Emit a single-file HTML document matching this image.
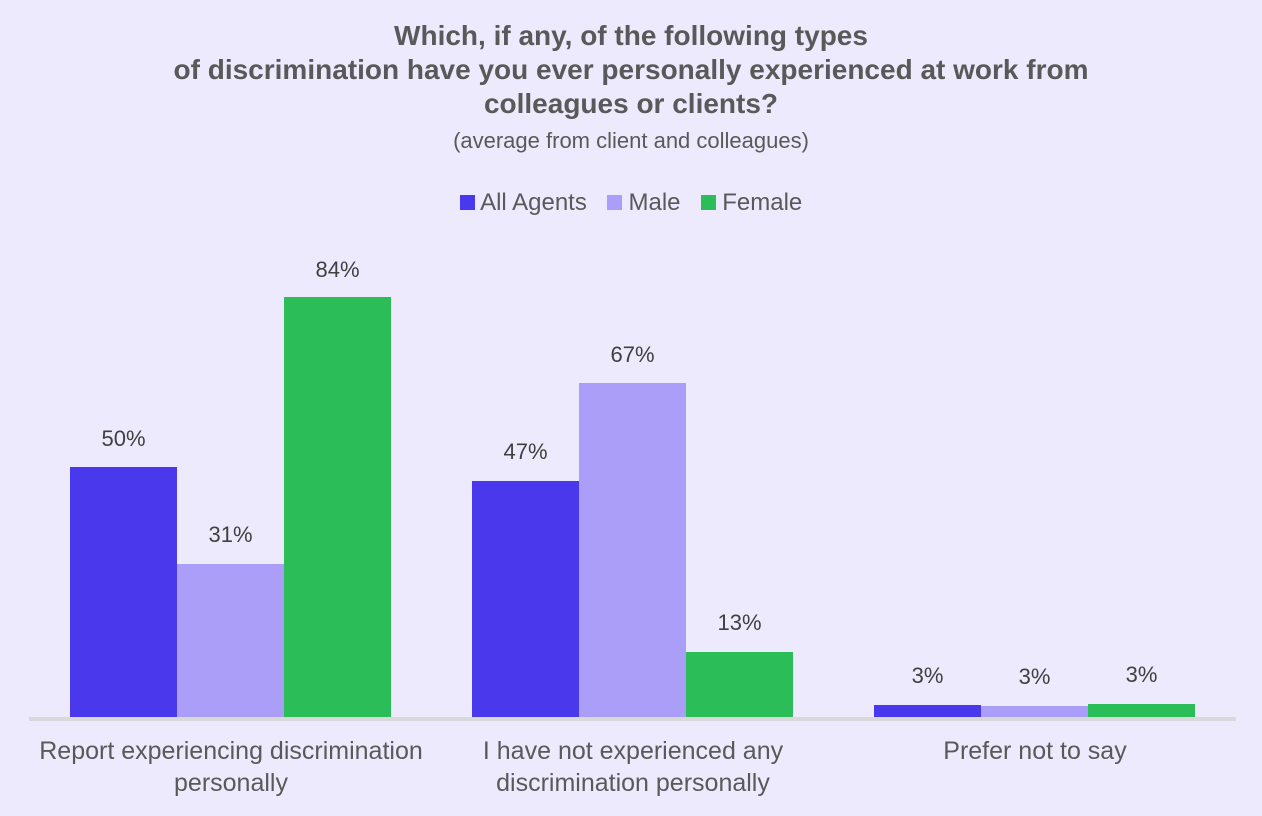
<!DOCTYPE html>
<html><head><style>
body{margin:0;background:#EEEAFD;width:1262px;height:816px;overflow:hidden;font-family:"Liberation Sans",sans-serif;position:relative;color:#595959}
.t{position:absolute;left:0;width:1262px;text-align:center}
.b{position:absolute;width:107px}
.l{position:absolute;width:107px;text-align:center;font-size:22px;color:#404040}
.c{position:absolute;text-align:center;font-size:25px;color:#595959;line-height:32px}
</style></head><body>
<div class="t" style="top:19px;font-size:28px;font-weight:bold;line-height:34px">Which, if any, of the following types<br>of discrimination have you ever personally experienced at work from<br>colleagues or clients?</div>
<div class="t" style="top:128px;font-size:22px">(average from client and colleagues)</div>
<div class="t" style="top:189px;font-size:24px;line-height:28px">
<span style="display:inline-block;width:15px;height:15px;background:#4A38EC"></span> All Agents&nbsp;&nbsp;
<span style="display:inline-block;width:15px;height:15px;background:#AB9EF8"></span> Male&nbsp;&nbsp;
<span style="display:inline-block;width:15px;height:15px;background:#2BBD58"></span> Female</div>
<div class="b" style="left:70px;top:467px;height:250px;background:#4A38EC"></div>
<div class="b" style="left:177px;top:564px;height:153px;background:#AB9EF8"></div>
<div class="b" style="left:284px;top:297px;height:420px;background:#2BBD58"></div>
<div class="b" style="left:472px;top:481px;height:236px;background:#4A38EC"></div>
<div class="b" style="left:579px;top:383px;height:334px;background:#AB9EF8"></div>
<div class="b" style="left:686px;top:652px;height:65px;background:#2BBD58"></div>
<div class="b" style="left:874px;top:705px;height:12px;background:#4A38EC"></div>
<div class="b" style="left:981px;top:706px;height:11px;background:#AB9EF8"></div>
<div class="b" style="left:1088px;top:704px;height:13px;background:#2BBD58"></div>
<div style="position:absolute;left:29px;top:717px;width:1207px;height:4px;background:#D9D9D9"></div>
<div class="l" style="left:70px;top:426px">50%</div>
<div class="l" style="left:177px;top:522px">31%</div>
<div class="l" style="left:284px;top:257px">84%</div>
<div class="l" style="left:472px;top:439px">47%</div>
<div class="l" style="left:579px;top:342px">67%</div>
<div class="l" style="left:686px;top:610px">13%</div>
<div class="l" style="left:874px;top:663px">3%</div>
<div class="l" style="left:981px;top:664px">3%</div>
<div class="l" style="left:1088px;top:662px">3%</div>
<div class="c" style="left:0px;width:462px;top:735px">Report experiencing discrimination<br>personally</div>
<div class="c" style="left:402px;width:462px;top:735px">I have not experienced any<br>discrimination personally</div>
<div class="c" style="left:804px;width:462px;top:735px">Prefer not to say</div>
</body></html>
